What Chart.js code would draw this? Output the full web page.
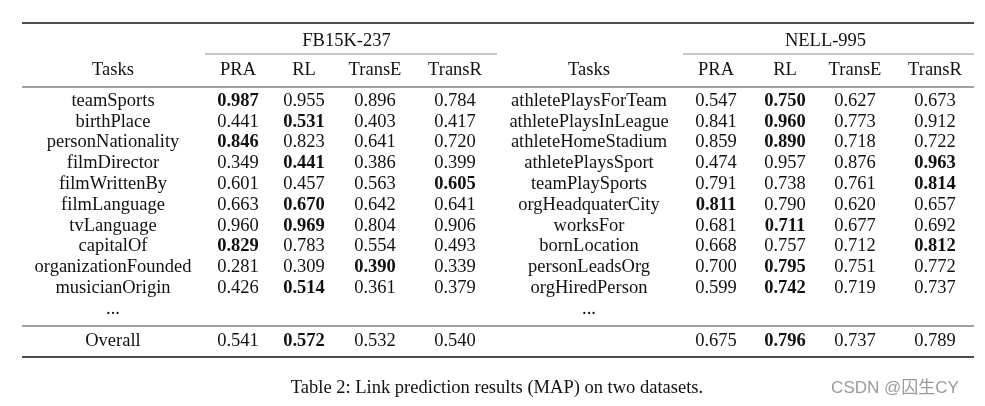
<!DOCTYPE html>
<html>
<head>
<meta charset="utf-8">
<script src="https://cdn.jsdelivr.net/npm/chart.js@4/dist/chart.umd.min.js"></script>
<style>
  html, body { margin: 0; padding: 0; background: #fff; }
  #table2 { display: block; }
</style>
</head>
<body>
<canvas id="table2" width="985" height="406"></canvas>
<script>
// Table 2 (link prediction MAP) drawn as a text grid on a Chart.js scatter.
// Cells are points placed by the x/y scales, text is painted on them by a plugin,
// the booktabs rules are plain line datasets.

// ---- data ----
var METHODS = ["PRA", "RL", "TransE", "TransR"];

var FB_TASKS = ["teamSports", "birthPlace", "personNationality", "filmDirector", "filmWrittenBy",
  "filmLanguage", "tvLanguage", "capitalOf", "organizationFounded", "musicianOrigin"];
var FB_PRA    = [0.987, 0.441, 0.846, 0.349, 0.601, 0.663, 0.960, 0.829, 0.281, 0.426];
var FB_RL     = [0.955, 0.531, 0.823, 0.441, 0.457, 0.670, 0.969, 0.783, 0.309, 0.514];
var FB_TRANSE = [0.896, 0.403, 0.641, 0.386, 0.563, 0.642, 0.804, 0.554, 0.390, 0.361];
var FB_TRANSR = [0.784, 0.417, 0.720, 0.399, 0.605, 0.641, 0.906, 0.493, 0.339, 0.379];
var FB_OVERALL = [0.541, 0.572, 0.532, 0.540];

var NELL_TASKS = ["athletePlaysForTeam", "athletePlaysInLeague", "athleteHomeStadium", "athletePlaysSport",
  "teamPlaySports", "orgHeadquaterCity", "worksFor", "bornLocation", "personLeadsOrg", "orgHiredPerson"];
var NELL_PRA    = [0.547, 0.841, 0.859, 0.474, 0.791, 0.811, 0.681, 0.668, 0.700, 0.599];
var NELL_RL     = [0.750, 0.960, 0.890, 0.957, 0.738, 0.790, 0.711, 0.757, 0.795, 0.742];
var NELL_TRANSE = [0.627, 0.773, 0.718, 0.876, 0.761, 0.620, 0.677, 0.712, 0.751, 0.719];
var NELL_TRANSR = [0.673, 0.912, 0.722, 0.963, 0.814, 0.657, 0.692, 0.812, 0.772, 0.737];
var NELL_OVERALL = [0.675, 0.796, 0.737, 0.789];

var CAPTION = "Table 2: Link prediction results (MAP) on two datasets.";
var WATERMARK = "CSDN @囚生CY";

// ---- layout (page units, same as the scale ranges) ----
var FB_TASK_X = 113, FB_COL_X = [238, 304, 375, 455];
var NELL_TASK_X = 589, NELL_COL_X = [716, 785, 855, 935];
var GROUP_Y = 41, HEAD_Y = 70, ROW0_Y = 101, ROW_STEP = 20.8, DOTS_Y = 309, OVERALL_Y = 341;
var CAPTION_X = 497, CAPTION_Y = 388, MARK_X = 895;
var SERIF = "'Liberation Serif', 'Times New Roman', serif";
var FONT_PX = 18.5;
var INK = "#111";

var cells = [];
function cell(x, y, text, opt) {
  opt = opt || {};
  cells.push({ x: x, y: y, text: text, bold: !!opt.bold, font: opt.font, color: opt.color });
}

function block(taskX, colX, title, tasks, cols, overall) {
  cell((colX[0] + colX[3]) / 2, GROUP_Y, title);
  cell(taskX, HEAD_Y, "Tasks");
  METHODS.forEach(function (m, j) { cell(colX[j], HEAD_Y, m); });
  tasks.forEach(function (t, i) {
    var y = ROW0_Y + i * ROW_STEP;
    var row = cols.map(function (c) { return c[i]; });
    var best = Math.max.apply(null, row);
    cell(taskX, y, t);
    row.forEach(function (v, j) { cell(colX[j], y, v.toFixed(3), { bold: v === best }); });
  });
  cell(taskX, DOTS_Y, "...");
  var best = Math.max.apply(null, overall);
  overall.forEach(function (v, j) { cell(colX[j], OVERALL_Y, v.toFixed(3), { bold: v === best }); });
}

block(FB_TASK_X, FB_COL_X, "FB15K-237", FB_TASKS, [FB_PRA, FB_RL, FB_TRANSE, FB_TRANSR], FB_OVERALL);
block(NELL_TASK_X, NELL_COL_X, "NELL-995", NELL_TASKS, [NELL_PRA, NELL_RL, NELL_TRANSE, NELL_TRANSR], NELL_OVERALL);
cell(FB_TASK_X, OVERALL_Y, "Overall");
cell(CAPTION_X, CAPTION_Y, CAPTION);
cell(MARK_X, CAPTION_Y, WATERMARK, { font: "17px 'Liberation Sans', 'Noto Sans CJK SC', sans-serif", color: "#9a9a9a" });

// booktabs rules: [x0, x1, y, width, color]
var RULES = [
  [22, 974, 23, 1.4, "#111"],
  [205, 497, 54, 1, "#8c8c8c"],
  [683, 974, 54, 1, "#8c8c8c"],
  [22, 974, 87, 1, "#444"],
  [22, 974, 326, 1, "#444"],
  [22, 974, 357, 1.4, "#111"],
];

var ruleSets = RULES.map(function (r) {
  return { type: "line", data: [{ x: r[0], y: r[2] }, { x: r[1], y: r[2] }],
           borderColor: r[4], borderWidth: r[3], pointRadius: 0, tension: 0, fill: false };
});

var cellText = {
  id: "cellText",
  afterDatasetsDraw: function (chart) {
    var ctx = chart.ctx;
    var meta = chart.getDatasetMeta(0);
    ctx.save();
    ctx.textAlign = "center";
    ctx.textBaseline = "middle";
    meta.data.forEach(function (el, i) {
      var c = cells[i];
      ctx.font = c.font || ((c.bold ? "bold " : "") + FONT_PX + "px " + SERIF);
      ctx.fillStyle = c.color || INK;
      ctx.fillText(c.text, el.x, el.y);
    });
    ctx.restore();
  }
};

new Chart(document.getElementById("table2"), {
  type: "scatter",
  data: { datasets: [{ data: cells, pointRadius: 0, pointHoverRadius: 0 }].concat(ruleSets) },
  options: {
    responsive: false, animation: false, devicePixelRatio: 1,
    layout: { padding: 0 },
    events: [],
    scales: {
      x: { type: "linear", min: 0, max: 985, display: false },
      y: { type: "linear", min: 0, max: 406, reverse: true, display: false }
    },
    plugins: { legend: { display: false }, tooltip: { enabled: false } }
  },
  plugins: [cellText]
});
</script>
</body>
</html>
